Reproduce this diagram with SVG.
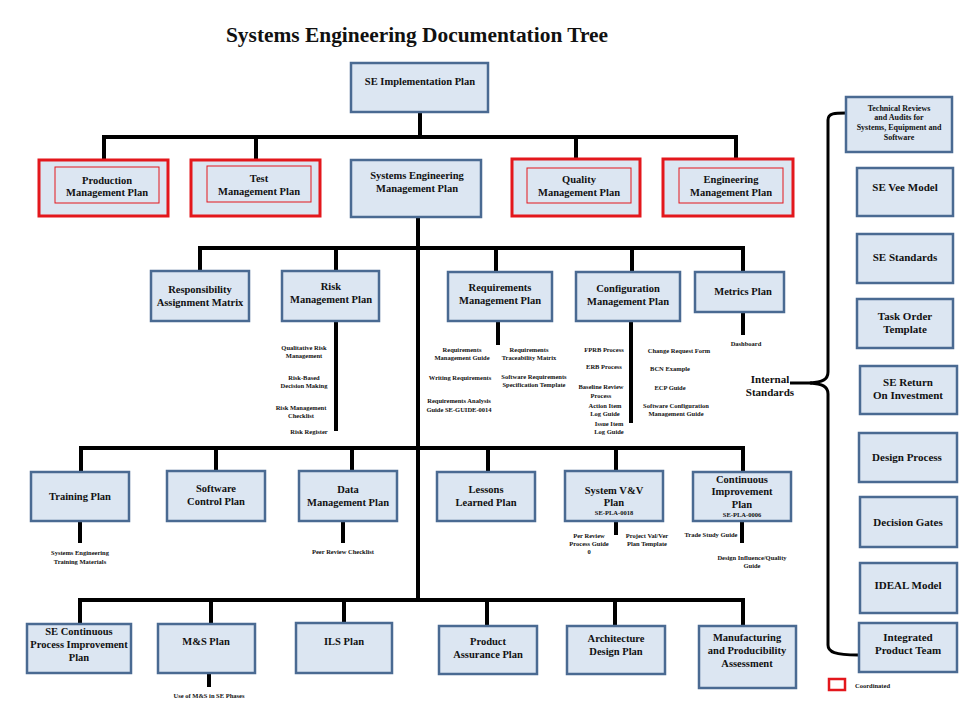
<svg xmlns="http://www.w3.org/2000/svg" width="960" height="720" viewBox="0 0 960 720">
<style>
text{font-family:"Liberation Serif","Times New Roman",serif;font-weight:bold;fill:#111;text-anchor:middle}
.box{fill:#dce6f2;stroke:#4a6a92;stroke-width:2.5}
.cbox{fill:#dce6f2;stroke:#e3171c;stroke-width:3}
.cin{fill:none;stroke:#e3171c;stroke-width:1}
.t{font-size:10.5px}
.r{font-size:11px}
.s{font-size:6.5px}
.c{fill:none;stroke:#000;stroke-width:4;stroke-linecap:butt}
.b{fill:none;stroke:#000;stroke-width:3}
</style>
<rect width="960" height="720" fill="#fff"/>
<text x="417" y="42" style="font-size:21.4px">Systems Engineering Documentation Tree</text>

<g id="connectors">
<path class="c" d="M420 112V139M102 137H738M104 137V160M256 137V160M576 137V160M736 137V160"/>
<path class="c" d="M418 217V602M198 248H745M200 248V271M336 248V271M496 248V272M632 248V272M743 248V272"/>
<path class="c" d="M79 448H420M418 448H745M81 448V472M216 448V472M352 448V472M488 448V472M616 448V472M743 448V472"/>
<path class="c" d="M78 600H745M80 600V624M211 600V624M344 600V623M487 600V626M615 600V626M743 600V626"/>
<path class="c" d="M336 321V431M498 321V345M631 321V423M743 312V335"/>
<path class="c" d="M80 521V543M343 521V543M616 521V535M742 521V543M209 673V687"/>
<path class="b" d="M846 113C835 113 828 113 828 120V372C828 380 822 382 810 383C822 384 828 386 828 394V645C828 652 835 655 858 655"/>
<path class="b" d="M790 383H812"/>
</g>

<g id="n-seip"><rect class="box" x="351" y="63" width="137" height="49"/><text class="t" x="420" y="85">SE Implementation Plan</text></g>

<g id="n-prod"><rect class="cbox" x="39" y="160" width="129" height="56"/><rect class="cin" x="55" y="167" width="104" height="36"/><text class="t" x="107" y="184">Production</text><text class="t" x="107" y="196">Management Plan</text></g>
<g id="n-test"><rect class="cbox" x="191" y="160" width="129" height="56"/><rect class="cin" x="207" y="166" width="104" height="36"/><text class="t" x="259" y="182">Test</text><text class="t" x="259" y="195">Management Plan</text></g>
<g id="n-semp"><rect class="box" x="351" y="160" width="130" height="57"/><text class="t" x="417" y="179">Systems Engineering</text><text class="t" x="417" y="192">Management Plan</text></g>
<g id="n-qual"><rect class="cbox" x="512" y="159" width="128" height="57"/><rect class="cin" x="527" y="168" width="104" height="35"/><text class="t" x="579" y="183">Quality</text><text class="t" x="579" y="196">Management Plan</text></g>
<g id="n-eng"><rect class="cbox" x="663" y="159" width="130" height="57"/><rect class="cin" x="679" y="168" width="104" height="35"/><text class="t" x="731" y="183">Engineering</text><text class="t" x="731" y="196">Management Plan</text></g>

<g id="n-ram"><rect class="box" x="151" y="271" width="98" height="50"/><text class="t" x="200" y="293">Responsibility</text><text class="t" x="200" y="306">Assignment Matrix</text></g>
<g id="n-risk"><rect class="box" x="282" y="271" width="97" height="50"/><text class="t" x="331" y="290">Risk</text><text class="t" x="331" y="303">Management Plan</text></g>
<g id="n-req"><rect class="box" x="448" y="272" width="104" height="49"/><text class="t" x="500" y="291">Requirements</text><text class="t" x="500" y="304">Management Plan</text></g>
<g id="n-cfg"><rect class="box" x="576" y="272" width="104" height="49"/><text class="t" x="628" y="292">Configuration</text><text class="t" x="628" y="305">Management Plan</text></g>
<g id="n-met"><rect class="box" x="695" y="272" width="89" height="40"/><text class="t" x="743" y="295">Metrics Plan</text></g>

<g id="docs-risk">
<text class="s" x="304" y="350">Qualitative Risk</text><text class="s" x="304" y="358">Management</text>
<text class="s" x="304" y="380">Risk-Based</text><text class="s" x="304" y="388">Decision Making</text>
<text class="s" x="301" y="410">Risk  Management</text><text class="s" x="301" y="418">Checklist</text>
<text class="s" x="309" y="434">Risk Register</text>
</g>
<g id="docs-req">
<text class="s" x="462" y="352">Requirements</text><text class="s" x="462" y="360">Management Guide</text>
<text class="s" x="529" y="352">Requirements</text><text class="s" x="529" y="360">Traceability Matrix</text>
<text class="s" x="460" y="380">Writing Requirements</text>
<text class="s" x="534" y="379">Software Requirements</text><text class="s" x="534" y="387">Specification Template</text>
<text class="s" x="459" y="403">Requirements Analysis</text><text class="s" x="459" y="412">Guide  SE-GUIDE-0014</text>
</g>
<g id="docs-cfg">
<text class="s" x="604" y="352">FPRB Process</text>
<text class="s" x="604" y="369">ERB Process</text>
<text class="s" x="601" y="389">Baseline Review</text><text class="s" x="601" y="398">Process</text>
<text class="s" x="605" y="408">Action Item</text><text class="s" x="605" y="416">Log Guide</text>
<text class="s" x="609" y="426">Issue Item</text><text class="s" x="609" y="434">Log Guide</text>
<text class="s" x="679" y="353">Change Request Form</text>
<text class="s" x="670" y="371">BCN Example</text>
<text class="s" x="670" y="390">ECP Guide</text>
<text class="s" x="676" y="408">Software Configuration</text><text class="s" x="676" y="416">Management Guide</text>
</g>
<g id="docs-met"><text class="s" x="746" y="346">Dashboard</text></g>

<g id="n-train"><rect class="box" x="31" y="472" width="98" height="49"/><text class="t" x="80" y="500">Training Plan</text></g>
<g id="n-swc"><rect class="box" x="167" y="471" width="98" height="50"/><text class="t" x="216" y="492">Software</text><text class="t" x="216" y="505">Control Plan</text></g>
<g id="n-data"><rect class="box" x="299" y="471" width="98" height="50"/><text class="t" x="348" y="493">Data</text><text class="t" x="348" y="506">Management Plan</text></g>
<g id="n-lessons"><rect class="box" x="437" y="472" width="98" height="49"/><text class="t" x="486" y="493">Lessons</text><text class="t" x="486" y="506">Learned Plan</text></g>
<g id="n-vv"><rect class="box" x="565" y="471" width="98" height="50"/><text class="t" x="614" y="494">System V&amp;V</text><text class="t" x="614" y="506">Plan</text><text class="s" x="614" y="515">SE-PLA-0018</text></g>
<g id="n-cip"><rect class="box" x="693" y="472" width="98" height="49"/><text class="t" x="742" y="483">Continuous</text><text class="t" x="742" y="495">Improvement</text><text class="t" x="742" y="508">Plan</text><text class="s" x="742" y="517">SE-PLA-0006</text></g>

<g id="docs-l3">
<text class="s" x="80" y="555">Systems Engineering</text><text class="s" x="80" y="564">Training Materials</text>
<text class="s" x="343" y="554">Peer Review Checklist</text>
<text class="s" x="589" y="538">Per Review</text><text class="s" x="589" y="546">Process Guide</text><text class="s" x="589" y="554">0</text>
<text class="s" x="647" y="538">Project Val/Ver</text><text class="s" x="647" y="546">Plan Template</text>
<text class="s" x="711" y="537">Trade Study Guide</text>
<text class="s" x="752" y="560">Design Influence/Quality</text><text class="s" x="752" y="568">Guide</text>
</g>

<g id="n-secpi"><rect class="box" x="27" y="624" width="104" height="49"/><text class="t" x="79" y="635">SE Continuous</text><text class="t" x="79" y="648">Process Improvement</text><text class="t" x="79" y="661">Plan</text></g>
<g id="n-ms"><rect class="box" x="158" y="624" width="97" height="49"/><text class="t" x="206" y="645">M&amp;S Plan</text></g>
<g id="n-ils"><rect class="box" x="296" y="623" width="96" height="50"/><text class="t" x="344" y="645">ILS Plan</text></g>
<g id="n-pap"><rect class="box" x="439" y="626" width="98" height="48"/><text class="t" x="488" y="645">Product</text><text class="t" x="488" y="658">Assurance Plan</text></g>
<g id="n-arch"><rect class="box" x="567" y="626" width="98" height="48"/><text class="t" x="616" y="642">Architecture</text><text class="t" x="616" y="655">Design Plan</text></g>
<g id="n-mpa"><rect class="box" x="699" y="626" width="97" height="62"/><text class="t" x="747" y="641">Manufacturing</text><text class="t" x="747" y="654">and Producibility</text><text class="t" x="747" y="667">Assessment</text></g>
<g id="docs-l4"><text class="s" x="209" y="698">Use of M&amp;S in SE Phases</text></g>

<g id="n-internal"><text x="770" y="383" style="font-size:11px">Internal</text><text x="770" y="396" style="font-size:11px">Standards</text></g>

<g id="n-tech"><rect class="box" x="846" y="97" width="106" height="55"/><text style="font-size:8px" x="899" y="111">Technical Reviews</text><text style="font-size:8px" x="899" y="120">and Audits for</text><text style="font-size:8px" x="899" y="130">Systems, Equipment and</text><text style="font-size:8px" x="899" y="140">Software</text></g>
<g id="n-vee"><rect class="box" x="857" y="168" width="96" height="48"/><text class="r" x="905" y="191">SE Vee Model</text></g>
<g id="n-std"><rect class="box" x="857" y="234" width="96" height="49"/><text class="r" x="905" y="261">SE Standards</text></g>
<g id="n-task"><rect class="box" x="857" y="299" width="96" height="49"/><text class="r" x="905" y="320">Task Order</text><text class="r" x="905" y="333">Template</text></g>
<g id="n-roi"><rect class="box" x="860" y="366" width="97" height="48"/><text class="r" x="908" y="386">SE Return</text><text class="r" x="908" y="399">On Investment</text></g>
<g id="n-dp"><rect class="box" x="859" y="433" width="98" height="49"/><text class="r" x="907" y="461">Design Process</text></g>
<g id="n-dg"><rect class="box" x="860" y="497" width="97" height="50"/><text class="r" x="908" y="526">Decision Gates</text></g>
<g id="n-ideal"><rect class="box" x="860" y="563" width="97" height="50"/><text class="r" x="908" y="589">IDEAL Model</text></g>
<g id="n-ipt"><rect class="box" x="859" y="623" width="98" height="49"/><text class="r" x="908" y="641">Integrated</text><text class="r" x="908" y="654">Product Team</text></g>

<g id="legend"><rect x="829" y="679" width="16" height="11" fill="#fff" stroke="#e3171c" stroke-width="2.5"/><text class="s" x="855" y="688" style="text-anchor:start">Coordinated</text></g>
</svg>
